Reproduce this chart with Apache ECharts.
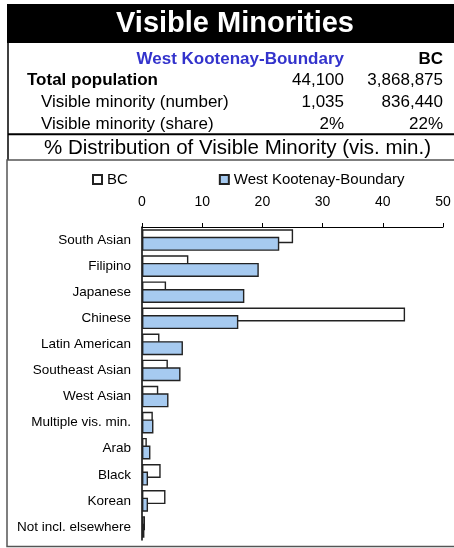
<!DOCTYPE html>
<html>
<head>
<meta charset="utf-8">
<script src="https://cdn.jsdelivr.net/npm/echarts@6/dist/echarts.min.js"></script>
<style>
  html, body { margin: 0; padding: 0; background: #fff; }
  #chart { width: 454px; height: 548px; }
</style>
</head>
<body>
<div id="chart"></div>
<script>
// summary table
var tableRows = ['Total population', 'Visible minority (number)', 'Visible minority (share)'];
var wkbSummary = ['44,100', '1,035', '2%'];
var bcSummary = ['3,868,875', '836,440', '22%'];

// % distribution of visible minority
var categories = ['South Asian', 'Filipino', 'Japanese', 'Chinese', 'Latin American', 'Southeast Asian',
    'West Asian', 'Multiple vis. min.', 'Arab', 'Black', 'Korean', 'Not incl. elsewhere'];
var bcValues = [25.1, 7.7, 4.0, 43.7, 2.9, 4.3, 2.7, 1.8, 0.8, 3.1, 3.9, 0.5];
var wkbValues = [22.8, 19.4, 17.0, 16.0, 6.8, 6.4, 4.4, 1.9, 1.4, 1.0, 1.0, 0.4];
var xTicks = [0, 10, 20, 30, 40, 50];

var FONT = '"Liberation Sans", Arial, sans-serif';

window.onload = function () {
    var myChart = echarts.init(document.getElementById('chart'));

    var graphics = [
        { type: 'rect', shape: { x: 7, y: 4, width: 447, height: 39 }, style: { fill: '#000' } },
        { type: 'text', x: 235, y: 24, style: { text: 'Visible Minorities', fill: '#fff',
            font: 'bold 29px ' + FONT, textAlign: 'center', textVerticalAlign: 'middle' } },
        { type: 'text', x: 344, y: 59, style: { text: 'West Kootenay-Boundary', fill: '#3333cc',
            font: 'bold 17px ' + FONT, textAlign: 'right', textVerticalAlign: 'middle' } },
        { type: 'text', x: 443, y: 59, style: { text: 'BC', fill: '#000',
            font: 'bold 17px ' + FONT, textAlign: 'right', textVerticalAlign: 'middle' } },
        { type: 'line', shape: { x1: 8, y1: 43, x2: 8, y2: 160 }, style: { stroke: '#000', lineWidth: 1.5 } },
        { type: 'line', shape: { x1: 8, y1: 134.3, x2: 454, y2: 134.3 }, style: { stroke: '#000', lineWidth: 2 } },
        { type: 'text', x: 237.5, y: 148, style: { text: '% Distribution of Visible Minority (vis. min.)', fill: '#000',
            font: '20.5px ' + FONT, textAlign: 'center', textVerticalAlign: 'middle' } },
        // chart frame, right side runs off the page
        { type: 'rect', shape: { x: 7, y: 160, width: 480, height: 386.5 },
            style: { fill: 'none', stroke: '#555', lineWidth: 1.5 } }
    ];
    var rowY = [80.5, 102.5, 124.5];
    tableRows.forEach(function (name, i) {
        graphics.push({ type: 'text', x: i === 0 ? 27 : 41, y: rowY[i], style: { text: name, fill: '#000',
            font: (i === 0 ? 'bold ' : '') + '17px ' + FONT, textVerticalAlign: 'middle' } });
        graphics.push({ type: 'text', x: 344, y: rowY[i], style: { text: wkbSummary[i], fill: '#000',
            font: '17px ' + FONT, textAlign: 'right', textVerticalAlign: 'middle' } });
        graphics.push({ type: 'text', x: 443, y: rowY[i], style: { text: bcSummary[i], fill: '#000',
            font: '17px ' + FONT, textAlign: 'right', textVerticalAlign: 'middle' } });
    });

    var option = {
        animation: false,
        textStyle: { fontFamily: FONT },
        graphic: graphics,
        legend: {
            left: 92,
            top: 172,
            padding: 0,
            icon: 'rect',
            itemWidth: 9,
            itemHeight: 9,
            itemGap: 91,
            textStyle: { fontSize: 15, color: '#000' },
            data: ['BC', 'West Kootenay-Boundary']
        },
        grid: { left: 142, right: 11, top: 227, bottom: 8, containLabel: false },
        xAxis: {
            type: 'value',
            position: 'top',
            min: xTicks[0],
            max: xTicks[xTicks.length - 1],
            interval: 10,
            axisLine: { show: true, lineStyle: { color: '#000', width: 1 } },
            axisTick: { show: true, length: 4, lineStyle: { color: '#000' } },
            axisLabel: { fontSize: 14, color: '#000', margin: 18 },
            splitLine: { show: false }
        },
        yAxis: {
            type: 'category',
            inverse: true,
            data: categories,
            axisLine: { show: true, lineStyle: { color: '#000', width: 1.5 } },
            axisTick: { show: false },
            axisLabel: { fontSize: 13.5, color: '#000', margin: 11 }
        },
        series: [
            {
                name: 'BC',
                type: 'bar',
                barWidth: 14,
                barGap: '-46%',
                itemStyle: { color: '#fff', borderColor: '#222', borderWidth: 1.4 },
                data: bcValues
            },
            {
                name: 'West Kootenay-Boundary',
                type: 'bar',
                barWidth: 14,
                barGap: '-46%',
                itemStyle: { color: '#a6caf0', borderColor: '#222', borderWidth: 1.4 },
                data: wkbValues
            }
        ]
    };
    myChart.setOption(option);
};
</script>
</body>
</html>
